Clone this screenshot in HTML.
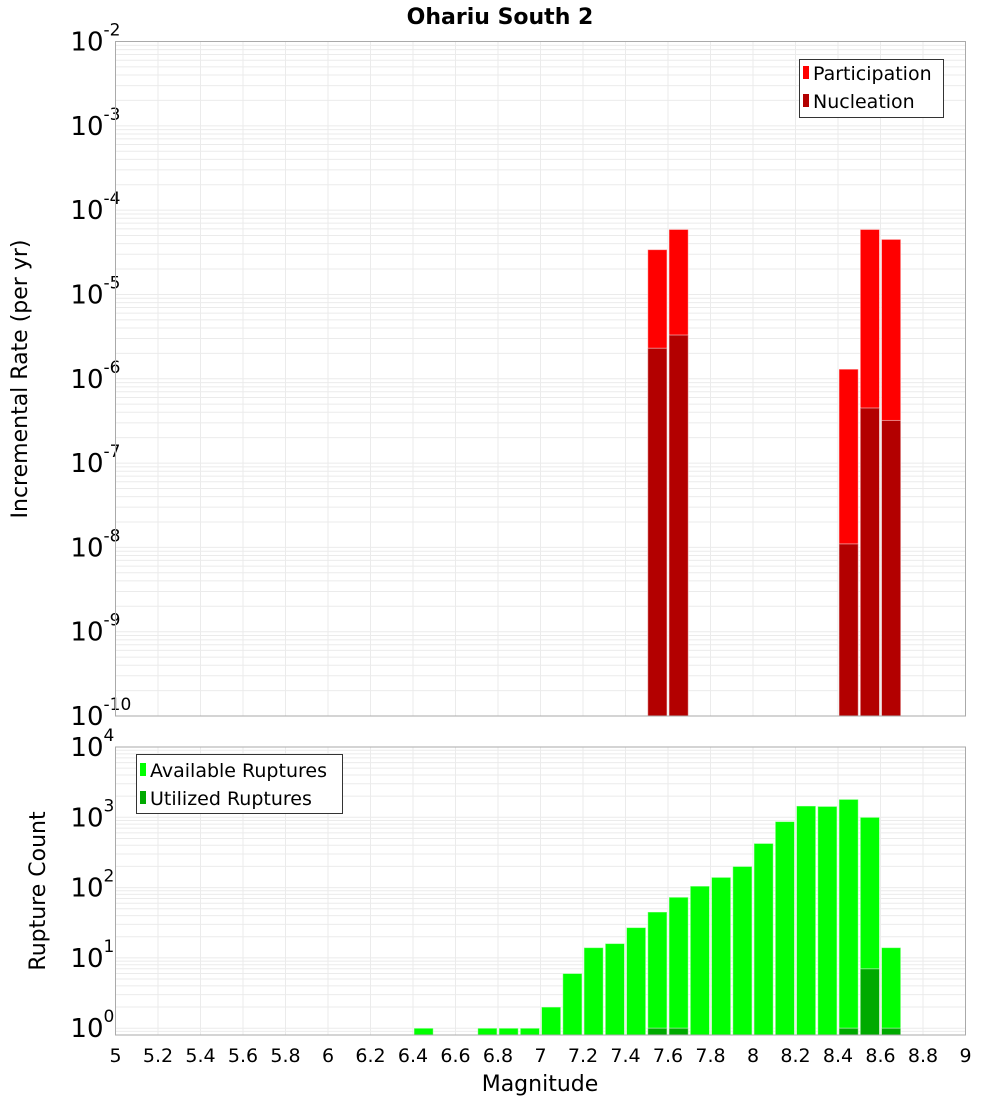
<!DOCTYPE html>
<html><head><meta charset="utf-8"><style>
body{margin:0;background:#fff}
svg text{font-family:"DejaVu Sans","Liberation Sans",sans-serif}
</style></head><body>
<svg id="chart" width="1000" height="1100" xmlns="http://www.w3.org/2000/svg">
<text x="500" y="24" text-anchor="middle" font-size="22" font-weight="bold">Ohariu South 2</text>
<g id="top"></g>
<g id="bot"></g>
<text transform="translate(27,379) rotate(-90)" text-anchor="middle" font-size="22">Incremental Rate (per yr)</text>
<text transform="translate(45,891) rotate(-90)" text-anchor="middle" font-size="22">Rupture Count</text>
<text x="540" y="1091" text-anchor="middle" font-size="22">Magnitude</text>
<g>
<rect x="799.5" y="59.5" width="144" height="58" fill="#fff" stroke="#333"/>
<rect x="803" y="66" width="6" height="13" fill="#ff0000"/>
<text x="813" y="80" font-size="19">Participation</text>
<rect x="803" y="94" width="6" height="13" fill="#b30000"/>
<text x="813" y="108" font-size="19">Nucleation</text>
</g>
<g>
<rect x="136.5" y="754.5" width="206" height="59" fill="#fff" stroke="#333"/>
<rect x="140" y="763" width="6" height="13" fill="#00ff00"/>
<text x="150" y="777" font-size="19">Available Ruptures</text>
<rect x="140" y="791" width="6" height="13" fill="#00aa00"/>
<text x="150" y="805" font-size="19">Utilized Ruptures</text>
</g>
</svg>
<script>
const rateMags=[7.55,7.65,8.45,8.55,8.65];
const participation=[3.4e-5,5.9e-5,1.3e-6,5.9e-5,4.5e-5];
const nucleation=[2.3e-6,3.3e-6,1.1e-8,4.5e-7,3.2e-7];
const countMags=[6.45,6.75,6.85,6.95,7.05,7.15,7.25,7.35,7.45,7.55,7.65,7.75,7.85,7.95,8.05,8.15,8.25,8.35,8.45,8.55,8.65];
const available=[1,1,1,1,2,6,14,16,27,45,73,105,140,200,425,870,1450,1430,1800,1000,14];
const utilizedMags=[7.55,7.65,8.45,8.55,8.65];
const utilized=[1,1,1,7,1];
const xTicks=["5","5.2","5.4","5.6","5.8","6","6.2","6.4","6.6","6.8","7","7.2","7.4","7.6","7.8","8","8.2","8.4","8.6","8.8","9"];
const NS="http://www.w3.org/2000/svg";
const L=115.5,R=965.5;
const X=m=>L+(m-5)/4*(R-L);
function mk(p,t,a){const e=document.createElementNS(NS,t);for(const k in a)e.setAttribute(k,a[k]);p.appendChild(e);return e;}
function panel(g,top,bot,lmin,lmax){
  const Y=v=>top+(lmax-Math.log10(v))/(lmax-lmin)*(bot-top);
  for(let d=Math.floor(lmin);d<lmax;d++)for(let k=1;k<10;k++){const v=k*Math.pow(10,d);if(Math.log10(v)<lmin||Math.log10(v)>lmax)continue;const y=Y(v);
    const ln=mk(g,'line',{x1:L,x2:R,y1:y,y2:y,stroke:'#ebebeb','stroke-width':1});
    }
  xTicks.forEach(t=>{const x=X(+t);const ln=mk(g,'line',{x1:x,x2:x,y1:top,y2:bot,stroke:'#ebebeb'});
    });
  for(let d=Math.ceil(lmin);d<=lmax;d++){const y=Y(Math.pow(10,d));
    const t=mk(g,'text',{x:L-12,y:y+9,'text-anchor':'end','font-size':26});
    
    t.textContent='10';const s=mk(g,'text',{x:L-12,y:y-6,'font-size':17});s.textContent=String(d);
    }
  return Y;
}
const gt=document.getElementById('top'),gb=document.getElementById('bot');
const Yt=panel(gt,41.5,716,-10,-2);
const Yb=panel(gb,747,1035,Math.log10(0.8),4);
function bars(g,Y,mags,vals,col,base,name){mags.forEach((m,i)=>{const y=Y(vals[i]);
  const r=mk(g,'rect',{x:X(m-0.05)+1,y:y,width:X(m+0.05)-X(m-0.05)-2,height:Math.max(0,base-y),fill:col,stroke:'#ffffff','stroke-opacity':0.5,'stroke-width':1});
  });}
bars(gt,Yt,rateMags,participation,'#ff0000',716,'participation-bar');
bars(gt,Yt,rateMags,nucleation,'#b30000',716,'nucleation-bar');
bars(gb,Yb,countMags,available,'#00ff00',1035,'available-bar');
bars(gb,Yb,utilizedMags,utilized,'#00aa00',1035,'utilized-bar');
[[gt,41.5,716],[gb,747,1035]].forEach(([g,t,b])=>{const r=mk(g,'rect',{x:L,y:t,width:R-L,height:b-t,fill:'none',stroke:'#aaaaaa'});
  });
xTicks.forEach(t=>{const e=mk(gb,'text',{x:X(+t),y:1062,'text-anchor':'middle','font-size':19});e.textContent=t;
  });
</script>
</body></html>
